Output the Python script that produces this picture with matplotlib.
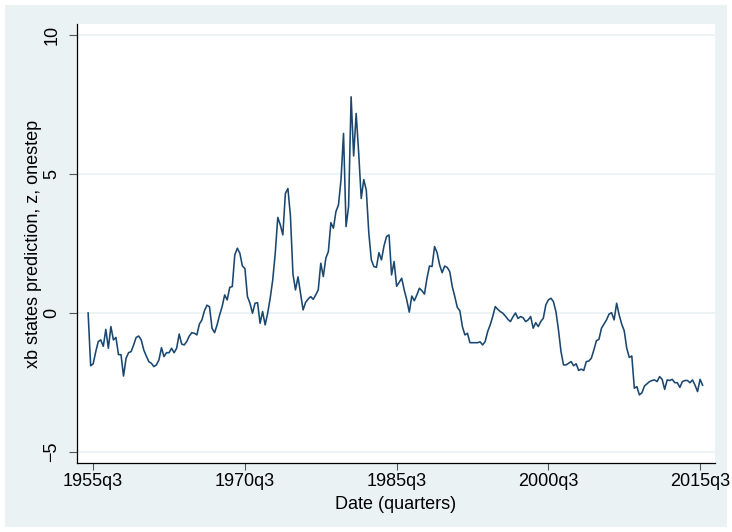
import matplotlib.pyplot as plt
import numpy as np
from matplotlib.patches import Rectangle

plt.rcParams['font.family'] = ['Liberation Sans', 'DejaVu Sans']

# one-step predictions of the state z, quarterly from 1955q1 to 2015q4
z_onestep = [
    0.00, -1.90, -1.83, -1.40,     # 1955
    -1.03, -0.97, -1.20, -0.59,    # 1956
    -1.27, -0.49, -0.97, -0.88,    # 1957
    -1.50, -1.50, -2.27, -1.63,    # 1958
    -1.43, -1.39, -1.15, -0.88,    # 1959
    -0.83, -0.97, -1.33, -1.55,    # 1960
    -1.75, -1.81, -1.93, -1.87,    # 1961
    -1.69, -1.25, -1.57, -1.43,    # 1962
    -1.43, -1.27, -1.43, -1.27,    # 1963
    -0.76, -1.12, -1.15, -1.03,    # 1964
    -0.83, -0.71, -0.73, -0.79,    # 1965
    -0.40, -0.25, 0.08, 0.28,      # 1966
    0.22, -0.55, -0.71, -0.43,     # 1967
    -0.07, 0.23, 0.65, 0.47,       # 1968
    0.92, 0.95, 2.09, 2.33,        # 1969
    2.15, 1.69, 1.60, 0.59,        # 1970
    0.35, -0.01, 0.35, 0.37,       # 1971
    -0.37, 0.05, -0.43, -0.01,     # 1972
    0.53, 1.19, 2.15, 3.44,        # 1973
    3.17, 2.81, 4.30, 4.48,        # 1974
    3.50, 1.40, 0.83, 1.30,        # 1975
    0.71, 0.11, 0.38, 0.50,        # 1976
    0.59, 0.49, 0.65, 0.83,        # 1977
    1.79, 1.31, 1.97, 2.21,        # 1978
    3.25, 3.05, 3.65, 3.89,        # 1979
    4.79, 6.46, 3.11, 3.83,        # 1980
    7.78, 5.65, 7.18, 5.75,        # 1981
    4.12, 4.80, 4.42, 2.87,        # 1982
    1.91, 1.67, 1.64, 2.17,        # 1983
    1.91, 2.41, 2.75, 2.81,        # 1984
    1.37, 1.85, 0.96, 1.10,        # 1985
    1.25, 0.83, 0.47, 0.03,        # 1986
    0.61, 0.44, 0.65, 0.89,        # 1987
    0.80, 0.68, 1.25, 1.69,        # 1988
    1.67, 2.39, 2.17, 1.73,        # 1989
    1.45, 1.69, 1.64, 1.49,        # 1990
    0.95, 0.59, 0.20, 0.08,        # 1991
    -0.49, -0.79, -0.73, -1.07,    # 1992
    -1.07, -1.07, -1.07, -1.04,    # 1993
    -1.15, -1.03, -0.67, -0.43,    # 1994
    -0.13, 0.23, 0.13, 0.05,       # 1995
    -0.01, -0.11, -0.23, -0.31,    # 1996
    -0.14, 0.00, -0.20, -0.13,     # 1997
    -0.17, -0.31, -0.25, -0.13,    # 1998
    -0.55, -0.35, -0.49, -0.31,    # 1999
    -0.19, 0.29, 0.47, 0.53,       # 2000
    0.41, 0.05, -0.61, -1.39,      # 2001
    -1.87, -1.87, -1.81, -1.75,    # 2002
    -1.90, -1.83, -2.07, -2.02,    # 2003
    -2.07, -1.75, -1.73, -1.63,    # 2004
    -1.33, -1.00, -0.95, -0.55,    # 2005
    -0.40, -0.25, -0.04, 0.01,     # 2006
    -0.25, 0.35, -0.07, -0.40,     # 2007
    -0.64, -1.27, -1.60, -1.55,    # 2008
    -2.71, -2.65, -2.95, -2.87,    # 2009
    -2.63, -2.55, -2.47, -2.43,    # 2010
    -2.41, -2.47, -2.29, -2.39,    # 2011
    -2.75, -2.41, -2.43, -2.39,    # 2012
    -2.51, -2.51, -2.68, -2.47,    # 2013
    -2.43, -2.43, -2.51, -2.41,    # 2014
    -2.60, -2.83, -2.39, -2.60,    # 2015
]

# Stata quarterly dates: 1960q1 = 0
start_q = -20
x_ticks = [-18, 42, 102, 162, 222]
x_tick_labels = ['1955q3', '1970q3', '1985q3', '2000q3', '2015q3']
y_ticks = [-5, 0, 5, 10]

quarters = np.arange(start_q, start_q + len(z_onestep))

bg = '#EAF2F3'
navy = '#1A476F'

fig = plt.figure(figsize=(7.32, 5.32), dpi=100, facecolor='white')
# graph region sits inside a thin white margin
fig.patches.append(Rectangle((5 / 732, 5 / 532), 722 / 732, 522 / 532,
                             transform=fig.transFigure, facecolor=bg,
                             edgecolor='none', zorder=-10))

ax = fig.add_axes([77 / 732, 69 / 532, 638 / 732, 439 / 532])
ax.set_facecolor('white')

for y in y_ticks:
    ax.axhline(y, color=bg, lw=1.2, zorder=1)

ax.plot(quarters, z_onestep, color=navy, lw=1.15, zorder=3)

ax.set_xlim(-24.4, 227.9)
ax.set_ylim(-5.4, 10.4)

ax.set_xticks(x_ticks)
ax.set_xticklabels(x_tick_labels)
ax.set_yticks(y_ticks)
ax.set_yticklabels([str(v).replace('-', '\u2212') for v in y_ticks],
                   rotation=90, va='center')

ax.tick_params(axis='x', length=5, width=0.8, color='#555555', pad=2.5,
               labelsize=13)
ax.tick_params(axis='y', length=6, width=0.8, color='#555555', pad=6,
               labelsize=13)

for side in ['top', 'right']:
    ax.spines[side].set_visible(False)
for side in ['left', 'bottom']:
    ax.spines[side].set_color('black')
    ax.spines[side].set_linewidth(0.9)

ax.set_xlabel('Date (quarters)', fontsize=13, labelpad=4)
ax.set_ylabel('xb states prediction, z, onestep', fontsize=13, labelpad=1)

fig.savefig('out.png', dpi=100, facecolor=fig.get_facecolor())
